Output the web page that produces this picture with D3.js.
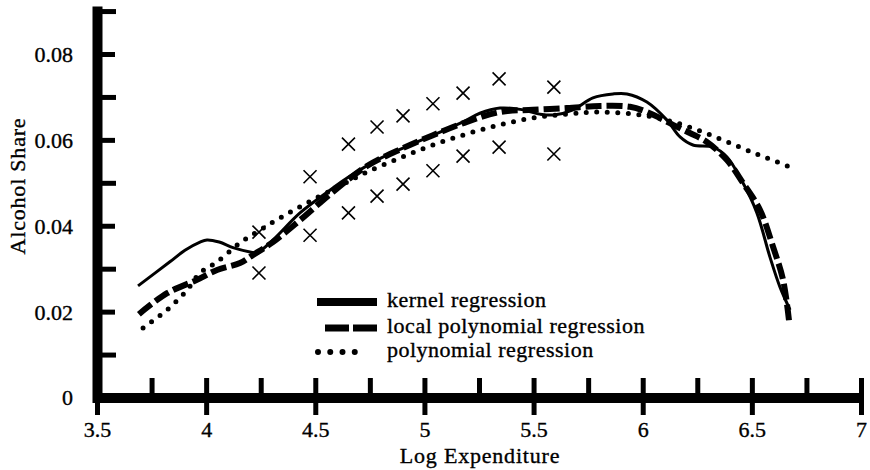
<!DOCTYPE html>
<html>
<head>
<meta charset="utf-8">
<script src="https://cdn.jsdelivr.net/npm/d3@7"></script>
<style>
body { margin: 0; background: #fff; }
text { font-family: "Liberation Serif", "Times New Roman", serif; fill: #000; stroke: #000; stroke-width: 0.35px; }
</style>
</head>
<body>
<script>
// tick values
var x_major = [3.5, 4, 4.5, 5, 5.5, 6, 6.5, 7]
var x_minor = [3.75, 4.25, 4.75, 5.25, 5.75, 6.25, 6.75]
var y_major = [0, 0.02, 0.04, 0.06, 0.08]
var y_minor = [0.01, 0.03, 0.05, 0.07, 0.09]

// kernel regression (solid)
var kernel_x = [3.688, 3.834, 3.903, 3.972, 4.004, 4.06, 4.123, 4.201, 4.233, 4.306, 4.43, 4.581, 4.654, 4.783, 4.902, 5.039, 5.177, 5.254, 5.346, 5.438, 5.529, 5.593, 5.681, 5.772, 5.864, 5.928, 6.019, 6.111, 6.171, 6.23, 6.322, 6.386, 6.459, 6.523, 6.583, 6.629, 6.675]
var kernel_y = [0.026, 0.0316, 0.0343, 0.0362, 0.0367, 0.0362, 0.0349, 0.0339, 0.0337, 0.0367, 0.043, 0.0488, 0.0514, 0.0553, 0.0581, 0.0611, 0.0642, 0.0662, 0.0674, 0.0671, 0.066, 0.0658, 0.067, 0.0698, 0.0707, 0.0707, 0.0688, 0.0646, 0.0607, 0.0588, 0.0583, 0.056, 0.05, 0.043, 0.0327, 0.0257, 0.0204]

// local polynomial regression (dashed)
var local_x = [3.692, 3.821, 3.958, 4.05, 4.155, 4.215, 4.306, 4.43, 4.581, 4.737, 4.902, 5.039, 5.195, 5.346, 5.497, 5.653, 5.804, 5.942, 6.019, 6.139, 6.216, 6.294, 6.386, 6.459, 6.537, 6.597, 6.643, 6.67]
var local_y = [0.0194, 0.0243, 0.0274, 0.0297, 0.0313, 0.0332, 0.0362, 0.0413, 0.0479, 0.0539, 0.0581, 0.0611, 0.0642, 0.0665, 0.067, 0.0674, 0.0679, 0.0677, 0.0665, 0.0635, 0.0616, 0.0595, 0.0553, 0.05, 0.0437, 0.0351, 0.0274, 0.018]

// polynomial regression (dotted)
var poly_x = [3.711, 3.821, 3.912, 3.972, 4.05, 4.155, 4.247, 4.338, 4.462, 4.613, 4.737, 4.888, 5.039, 5.195, 5.346, 5.497, 5.653, 5.804, 6.019, 6.171, 6.322, 6.478, 6.569, 6.698]
var poly_y = [0.0162, 0.0204, 0.025, 0.029, 0.0316, 0.036, 0.039, 0.0418, 0.0453, 0.0493, 0.0525, 0.0558, 0.0588, 0.0614, 0.0635, 0.0651, 0.066, 0.0665, 0.0656, 0.0637, 0.0609, 0.0576, 0.0558, 0.0532]

// x markers (upper and lower)
var mark_x = [4.242, 4.476, 4.652, 4.783, 4.902, 5.039, 5.177, 5.342, 5.593]
var mark_hi = [0.0385, 0.0514, 0.059, 0.063, 0.0656, 0.0684, 0.0709, 0.0742, 0.0723]
var mark_lo = [0.029, 0.0378, 0.043, 0.0469, 0.0497, 0.0528, 0.0562, 0.0583, 0.0567]

var legend_labels = ["kernel regression", "local polynomial regression", "polynomial regression"]

var w = 870, h = 470
var svg = d3.select("body").append("svg")
.attr("width", w)
.attr("height", h)

svg.append("rect").attr("width", w).attr("height", h).attr("fill", "#fff")

var x = d3.scaleLinear().domain([3.5, 7]).range([97, 861])
var y = d3.scaleLinear().domain([0, 0.09]).range([397.5, 11.06])

// x axis
var x_minor_g = svg.append("g")
.attr("transform", "translate(0," + y(0) + ")")
.call(d3.axisBottom(x).tickValues(x_minor).tickSize(-19.5).tickSizeOuter(0).tickFormat(""))
x_minor_g.select(".domain").remove()
x_minor_g.selectAll(".tick line").attr("stroke-width", 5)

var x_axis_g = svg.append("g")
.attr("transform", "translate(0," + y(0) + ")")
.call(d3.axisBottom(x).tickValues(x_major).tickSize(17.5).tickSizeOuter(0).tickFormat(d3.format("")))
x_axis_g.select(".domain").attr("stroke-width", 10)
x_axis_g.selectAll(".tick line").attr("y1", -19.5).attr("stroke-width", 5)
x_axis_g.selectAll(".tick text")
.attr("y", 39.5)
.attr("dy", null)
.style("font-size", "22px")
.style("font-family", "Liberation Serif")
.attr("fill", "#000")

// y axis
var y_minor_g = svg.append("g")
.attr("transform", "translate(" + x(3.5) + ",0)")
.call(d3.axisLeft(y).tickValues(y_minor).tickSize(-19).tickSizeOuter(0).tickFormat(""))
y_minor_g.select(".domain").remove()
y_minor_g.selectAll(".tick line").attr("stroke-width", 5)

var y_axis_g = svg.append("g")
.attr("transform", "translate(" + x(3.5) + ",0)")
.call(d3.axisLeft(y).tickValues(y_major).tickSize(17).tickSizeOuter(0).tickFormat(d3.format("")))
y_axis_g.select(".domain").attr("stroke-width", 10).attr("stroke-linecap", "square")
y_axis_g.selectAll(".tick line").attr("x2", 18).attr("stroke-width", 5)
y_axis_g.selectAll(".tick text")
.attr("x", -24)
.attr("dy", "0.34em")
.style("font-size", "22px")
.style("font-family", "Liberation Serif")
.attr("fill", "#000")

// axis titles
svg.append("text")
.attr("x", 480)
.attr("y", 463)
.attr("text-anchor", "middle")
.style("font-size", "22px")
.style("letter-spacing", "0.8px")
.text("Log Expenditure")

svg.append("text")
.attr("transform", "translate(25,186) rotate(-90)")
.attr("text-anchor", "middle")
.style("font-size", "22px")
.style("letter-spacing", "0.8px")
.text("Alcohol Share")

// curves
var line = d3.line()
.x(function(d) { return x(d[0]) })
.y(function(d) { return y(d[1]) })
.curve(d3.curveCatmullRom.alpha(0.5))

var kernel = d3.zip(kernel_x, kernel_y)
var local = d3.zip(local_x, local_y)
var poly = d3.zip(poly_x, poly_y)

svg.append("path")
.datum(poly)
.attr("d", line)
.attr("fill", "none")
.attr("stroke", "#000")
.attr("stroke-width", 5)
.attr("stroke-linecap", "round")
.attr("stroke-dasharray", "0,10.5")

svg.append("path")
.datum(local)
.attr("d", line)
.attr("fill", "none")
.attr("stroke", "#000")
.attr("stroke-width", 6)
.attr("stroke-dasharray", "16,5")

svg.append("path")
.datum(kernel)
.attr("d", line)
.attr("fill", "none")
.attr("stroke", "#000")
.attr("stroke-width", 3)

// x markers
var marks = svg.append("g")
mark_x.forEach(function(d, i) {
[mark_hi[i], mark_lo[i]].forEach(function(v) {
marks.append("path")
.attr("transform", "translate(" + x(d) + "," + y(v) + ")")
.attr("d", "M-6.5,-6.5L6.5,6.5M6.5,-6.5L-6.5,6.5")
.attr("stroke", "#000")
.attr("stroke-width", 1.6)
.attr("fill", "none")
})
})

// legend
var legend = svg.append("g")
var leg_y = [307, 333, 357]
legend.append("line")
.attr("x1", 317).attr("x2", 377)
.attr("y1", leg_y[0] - 5).attr("y2", leg_y[0] - 5)
.attr("stroke", "#000").attr("stroke-width", 8)
legend.append("line")
.attr("x1", 325).attr("x2", 377)
.attr("y1", leg_y[1] - 5).attr("y2", leg_y[1] - 5)
.attr("stroke", "#000").attr("stroke-width", 7)
.attr("stroke-dasharray", "24,4")
legend.append("line")
.attr("x1", 318).attr("x2", 367)
.attr("y1", leg_y[2] - 5).attr("y2", leg_y[2] - 5)
.attr("stroke", "#000").attr("stroke-width", 6)
.attr("stroke-linecap", "round")
.attr("stroke-dasharray", "0,12.25")
legend_labels.forEach(function(t, i) {
legend.append("text")
.attr("x", 387)
.attr("y", leg_y[i])
.style("font-size", "22px")
.style("letter-spacing", "0.5px")
.text(t)
})
</script>
</body>
</html>
